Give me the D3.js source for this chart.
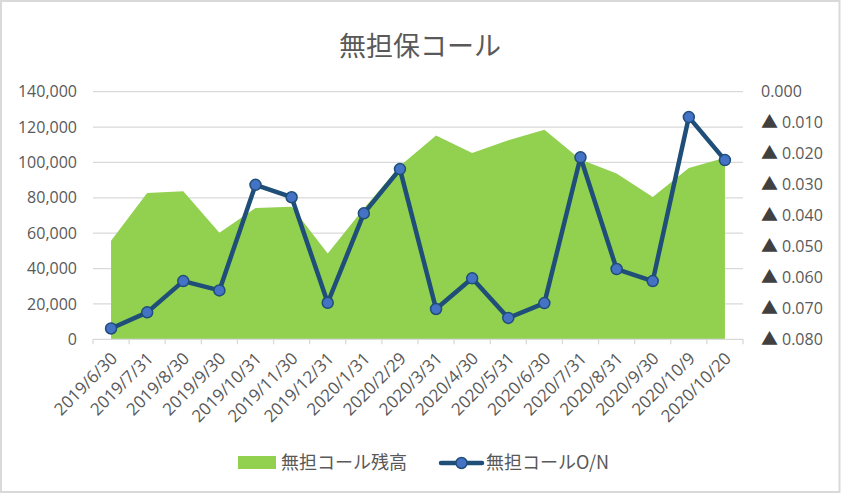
<!DOCTYPE html>
<html>
<head>
<meta charset="utf-8">
<title>無担保コール</title>
<script src="https://cdn.jsdelivr.net/npm/d3@7"></script>
<style>
  body { margin: 0; background: #fff; }
  text { fill: #595959; }
</style>
</head>
<body>
<svg width="841" height="494"></svg>
<script>
var dates = ["2019/6/30", "2019/7/31", "2019/8/30", "2019/9/30", "2019/10/31",
  "2019/11/30", "2019/12/31", "2020/1/31", "2020/2/29", "2020/3/31", "2020/4/30",
  "2020/5/31", "2020/6/30", "2020/7/31", "2020/8/31", "2020/9/30", "2020/10/9",
  "2020/10/20"];
// 無担コール残高 (left axis)
var balance = [55700, 82700, 83700, 60200, 74300, 74900, 48500, 74000, 98000,
  115300, 105300, 112500, 118500, 101600, 93700, 80500, 96900, 102700];
// 無担コールO/N (right axis, negative rates)
var overnight = [-0.0765, -0.0713, -0.0612, -0.0642, -0.0301, -0.0341, -0.0682,
  -0.0393, -0.0250, -0.0702, -0.0603, -0.0731, -0.0683, -0.0212, -0.0573,
  -0.0612, -0.0082, -0.0221];
var leftTicks = [0, 20000, 40000, 60000, 80000, 100000, 120000, 140000];
var rightTicks = [0, -0.01, -0.02, -0.03, -0.04, -0.05, -0.06, -0.07, -0.08];

var svg = d3.select("svg");
var plotLeft = 93, plotRight = 743, plotTop = 91.7, plotBottom = 339.3;
var jp = "'Noto Sans CJK JP', sans-serif";
var num = "'Open Sans', 'Liberation Sans', sans-serif";

svg.append("rect")
    .attr("x", 1).attr("y", 1).attr("width", 838.5).attr("height", 491)
    .attr("fill", "#fff").attr("stroke", "#d9d9d9").attr("stroke-width", 2);

var x = d3.scaleBand().domain(dates).range([plotLeft, plotRight]);
var y = d3.scaleLinear().domain([0, 140000]).range([plotBottom, plotTop]);
var y2 = d3.scaleLinear().domain([0, -0.08]).range([plotTop, plotBottom]);
var cx = function(d){ return x(d) + x.bandwidth() / 2; };

// gridlines
svg.append("g").selectAll("line")
    .data(leftTicks.slice(1))
  .enter().append("line")
    .attr("x1", plotLeft).attr("x2", plotRight)
    .attr("y1", function(d){ return y(d); })
    .attr("y2", function(d){ return y(d); })
    .attr("stroke", "#d9d9d9").attr("stroke-width", 1.3);

// area
var area = d3.area()
    .x(function(d, i){ return cx(dates[i]); })
    .y0(plotBottom)
    .y1(function(d){ return y(d); });
svg.append("path")
    .datum(balance)
    .attr("d", area)
    .attr("fill", "#92d050");

// x axis
var xAxis = svg.append("g").attr("transform", "translate(0," + plotBottom + ")");
xAxis.append("line").attr("x1", plotLeft).attr("x2", plotRight)
    .attr("stroke", "#d9d9d9").attr("stroke-width", 1.3);
xAxis.selectAll("line.tick")
    .data(d3.range(dates.length + 1))
  .enter().append("line")
    .attr("class", "tick")
    .attr("x1", function(i){ return plotLeft + i * x.step(); })
    .attr("x2", function(i){ return plotLeft + i * x.step(); })
    .attr("y1", 0).attr("y2", 5)
    .attr("stroke", "#d9d9d9").attr("stroke-width", 1.3);
xAxis.selectAll("text")
    .data(dates)
  .enter().append("text")
    .attr("transform", function(d){
        return "translate(" + (cx(d) + 3) + ",16) rotate(-45)"; })
    .attr("text-anchor", "end")
    .attr("dy", "0.35em")
    .style("font-family", num).style("font-size", "17px")
    .text(function(d){ return d; });

// left axis labels
svg.append("g").selectAll("text")
    .data(leftTicks)
  .enter().append("text")
    .attr("x", 77)
    .attr("y", function(d){ return y(d); })
    .attr("dy", "0.35em")
    .attr("text-anchor", "end")
    .style("font-family", num).style("font-size", "16px")
    .text(d3.format(","));

// right axis labels (▲ = minus)
var rl = svg.append("g").selectAll("text")
    .data(rightTicks)
  .enter().append("text")
    .attr("x", 761)
    .attr("y", function(d){ return y2(d); })
    .attr("dy", "0.35em")
    .style("font-family", num).style("font-size", "16px");
rl.filter(function(d){ return d !== 0; })
  .append("tspan")
    .style("font-family", jp).style("font-size", "17px")
    .style("fill", "#404040")
    .text("▲");
rl.append("tspan")
    .attr("x", function(d){ return d === 0 ? 761 : 782; })
    .text(function(d){ return Math.abs(d).toFixed(3); });

// O/N line
var line = d3.line()
    .x(function(d, i){ return cx(dates[i]); })
    .y(function(d){ return y2(d); });
svg.append("path")
    .datum(overnight)
    .attr("d", line)
    .attr("fill", "none")
    .attr("stroke", "#1f4e79")
    .attr("stroke-width", 4.5)
    .attr("stroke-linejoin", "round");
svg.append("g").selectAll("circle")
    .data(overnight)
  .enter().append("circle")
    .attr("cx", function(d, i){ return cx(dates[i]); })
    .attr("cy", function(d){ return y2(d); })
    .attr("r", 5.5)
    .attr("fill", "#4472c4")
    .attr("stroke", "#1f4e79")
    .attr("stroke-width", 1.5);

// title
svg.append("text")
    .attr("x", 420).attr("y", 56)
    .attr("text-anchor", "middle")
    .style("font-family", jp).style("font-size", "27px")
    .text("無担保コール");

// legend
var lg = svg.append("g");
lg.append("rect")
    .attr("x", 238).attr("y", 456).attr("width", 38).attr("height", 13)
    .attr("fill", "#92d050");
lg.append("text")
    .attr("x", 281).attr("y", 463).attr("dy", "0.35em")
    .style("font-family", jp).style("font-size", "18px")
    .text("無担コール残高");
lg.append("line")
    .attr("x1", 441).attr("x2", 482).attr("y1", 463).attr("y2", 463)
    .attr("stroke", "#1f4e79").attr("stroke-width", 4.5)
    .attr("stroke-linecap", "round");
lg.append("circle")
    .attr("cx", 461.5).attr("cy", 463).attr("r", 5.5)
    .attr("fill", "#4472c4").attr("stroke", "#1f4e79").attr("stroke-width", 1.5);
lg.append("text")
    .attr("x", 486).attr("y", 463).attr("dy", "0.35em")
    .style("font-family", jp).style("font-size", "18px")
    .text("無担コールO/N");
</script>
</body>
</html>
